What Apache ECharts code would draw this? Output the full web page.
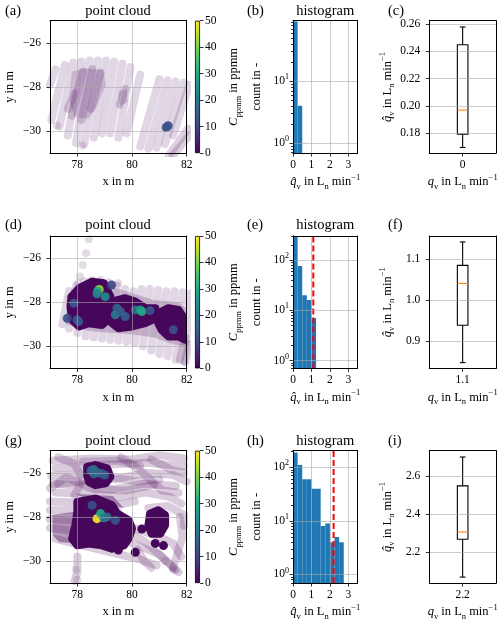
<!DOCTYPE html>
<html><head><meta charset="utf-8">
<script src="https://cdn.jsdelivr.net/npm/echarts@6/dist/echarts.min.js"></script>
<style>html,body{margin:0;padding:0;background:#fff}#c{width:500px;height:625px}</style>
</head><body><div id="c"></div>
<script>
const F = "'Liberation Serif','Times New Roman','DejaVu Serif',serif";
const viridis = ['#440154','#482475','#414487','#355f8d','#2a788e','#21918c','#22a884','#44bf70','#7ad151','#bddf26','#fde725'];

// ---------- axes / ticks ----------
const cloudXRange = [77, 82], cloudYRange = [-31, -25];
const cloudXTicks = [78, 80, 82], cloudYTicks = [-30, -28, -26];
const cbarRange = [0, 50], cbarTicks = [0, 10, 20, 30, 40, 50];
const histXRange = [0, 3.5], histXTicks = [0, 1, 2, 3];
const histLogMajor = [1, 10, 100];
const histLogMinor = [0.7,0.8,0.9,2,3,4,5,6,7,8,9,20,30,40,50,60,70,80,90,200,300];

// ---------- histograms ----------
const binEdgesB = [0, 0.25, 0.5];
const countsB = [92, 4];
const histYRangeB = [0.69, 95];
const binEdgesE = [0, 0.25, 0.5, 0.75, 1.0, 1.25];
const countsE = [290, 76, 20, 16, 7];
const histYRangeE = [0.70, 301];
const trueQE = 1.1;
const binEdgesH = [0, 0.25, 0.5, 0.75, 1.0, 1.25, 1.5, 1.75, 2.0, 2.25, 2.5, 2.75];
const countsH = [190, 111, 60, 60, 40, 40, 8, 9, 4, 5, 4];
const histYRangeH = [0.69, 205];
const trueQH = 2.2;

// ---------- box plots [min, q1, median, q3, max] ----------
const boxCats = ['0', '1.1', '2.2'];
const boxC = [0.1695, 0.1793, 0.1969, 0.2448, 0.2578];
const boxF = [0.848, 0.939, 1.0407, 1.0846, 1.1415];
const boxI = [2.069, 2.268, 2.306, 2.548, 2.6995];
const boxYRangeC = [0.1654, 0.2624], boxTicksC = [0.18, 0.20, 0.22, 0.24, 0.26];
const boxYRangeF = [0.834, 1.156], boxTicksF = [0.9, 1.0, 1.1];
const boxYRangeI = [2.0375, 2.7325], boxTicksI = [2.2, 2.4, 2.6];

// ---------- point clouds (a) ----------
const tracksA = [
 [[77.0,-27.9],[77.2,-27.2]],
 [[77.05,-29.5],[77.55,-27.0]],
 [[77.35,-29.8],[77.85,-26.9]],
 [[77.65,-30.2],[78.15,-26.85]],
 [[77.95,-30.55],[78.45,-26.8]],
 [[78.25,-30.6],[78.75,-26.8]],
 [[78.6,-30.3],[79.05,-26.8]],
 [[78.9,-30.1],[79.35,-26.85]],
 [[79.2,-30.1],[79.65,-26.95]],
 [[79.5,-30.3],[79.95,-27.1]],
 [[79.8,-30.1],[80.3,-27.45]],
 [[80.3,-30.7],[81.0,-27.65]],
 [[80.6,-30.8],[81.3,-27.7]],
 [[80.9,-30.75],[81.6,-27.75]],
 [[81.2,-30.6],[81.9,-27.8]],
 [[81.5,-30.2],[82.1,-27.9]]
];
const denseA = [
 [[77.8,-29.3],[78.2,-27.3]],
 [[78.15,-29.5],[78.55,-27.2]],
 [[78.5,-29.0],[78.85,-27.35]],
 [[77.65,-29.0],[77.9,-28.3]],
 [[79.55,-28.8],[79.75,-28.1]],
 [[81.35,-31.1],[82.05,-29.9]],
 [[81.5,-31.1],[82.1,-30.2]]
];
const mediumPolysA = [
 [[77.8,-27.3],[78.3,-27.15],[78.95,-27.25],[79.05,-27.9],[78.7,-28.9],[78.4,-29.45],[77.9,-29.35],[77.7,-28.6]],
 [[79.5,-28.2],[79.8,-28.1],[79.85,-28.7],[79.55,-28.85]]
];
const darkPolysA = [];
const darkSpotsA = [];
const singlesA = [[78.18,-30.65],[77.25,-29.75]];
const hotA = [[81.25,-29.84,12],[81.32,-29.76,12]];

// ---------- point clouds (d) ----------
const tracksD = [
 [[77.45,-29.0],[77.7,-27.5]],
 [[77.7,-29.2],[77.95,-27.25]],
 [[78.0,-29.4],[78.25,-27.05]],
 [[78.3,-29.55],[78.55,-27.0]],
 [[78.6,-29.6],[78.85,-27.0]],
 [[78.9,-29.65],[79.15,-27.1]],
 [[79.2,-29.7],[79.45,-27.25]],
 [[79.5,-29.75],[79.75,-27.4]],
 [[79.8,-29.8],[80.05,-27.5]],
 [[80.1,-29.85],[80.35,-27.4]],
 [[80.4,-30.0],[80.65,-27.4]],
 [[80.7,-30.2],[80.95,-27.45]],
 [[81.0,-30.35],[81.25,-27.5]],
 [[81.3,-30.45],[81.55,-27.5]],
 [[81.6,-30.6],[81.85,-27.55]],
 [[81.9,-30.7],[82.15,-27.6]]
];
const denseD = [
 [[81.75,-30.6],[81.95,-29.6]],
 [[81.95,-30.7],[82.1,-29.9]]
];
const mediumPolysD = [
 [[77.6,-27.7],[78.0,-27.3],[78.7,-27.0],[79.3,-27.3],[80.0,-27.6],[80.8,-27.9],[81.7,-28.0],[82.0,-28.3],[82.0,-30.0],[81.5,-29.9],[80.8,-29.6],[80.0,-29.45],[79.3,-29.4],[78.4,-29.3],[77.6,-29.0]]
];
const darkPolysD = [
 [[77.79,-27.75],[78.06,-27.37],[78.54,-27.07],[78.97,-27.14],[79.21,-27.75],[79.27,-28.65],[78.9,-29.03],[78.42,-28.95],[78.06,-29.1],[77.81,-28.8],[77.75,-28.2]],
 [[79.27,-27.97],[79.75,-27.82],[80.12,-27.97],[80.48,-28.27],[80.85,-28.27],[80.85,-28.73],[80.48,-28.95],[80.0,-29.1],[79.5,-29.18],[79.27,-28.95]],
 [[80.96,-28.5],[81.33,-28.27],[81.7,-28.35],[81.94,-28.8],[81.94,-29.7],[81.7,-29.55],[81.33,-29.55],[81.08,-29.25],[80.96,-28.95]]
];
const darkSpotsD = [];
const singlesD = [[78.42,-25.15],[78.32,-25.78],[78.2,-26.31],[78.09,-26.84],[78.02,-27.14],[79.49,-27.14]];
const hotD = [
 [78.8,-27.42,42],[78.74,-27.5,30],[78.72,-27.62,22],[79.02,-27.75,24],[79.25,-27.22,10],
 [77.87,-28.05,13],[77.63,-28.73,12],[77.99,-28.8,14],[78.05,-28.88,13],[79.45,-28.27,16],
 [79.39,-28.57,20],[79.57,-28.42,15],[79.75,-28.65,15],[80.12,-28.35,18],[80.3,-28.35,26],
 [80.36,-28.42,30],[80.66,-28.38,13],[81.51,-29.25,12]
];

// ---------- point clouds (g) ----------
const tracksG = [
 [[77.1,-25.45],[78.5,-25.35],[80.0,-25.4],[81.0,-25.2],[81.9,-25.35]],
 [[77.2,-25.8],[78.3,-25.7],[79.5,-25.6],[80.5,-25.55],[81.9,-25.7]],
 [[77.05,-26.15],[78.3,-26.05],[79.4,-26.3],[80.5,-26.0],[81.5,-26.1],[82.0,-26.4]],
 [[77.1,-26.5],[78.2,-26.6],[79.3,-26.75],[80.4,-26.5],[81.6,-26.6]],
 [[77.2,-26.9],[78.2,-26.95],[79.5,-27.1],[80.5,-26.9],[81.4,-27.1],[81.8,-27.4]],
 [[77.0,-27.3],[78.0,-27.35],[79.5,-27.45],[80.1,-27.3]],
 [[77.0,-27.7],[78.0,-27.7],[79.5,-27.8]],
 [[77.0,-28.1],[78.2,-28.2],[79.6,-28.3],[80.3,-28.6],[81.0,-28.9],[81.5,-29.2],[81.8,-29.8]],
 [[77.0,-28.5],[78.0,-28.65],[79.4,-28.9],[80.2,-29.3],[81.0,-29.7],[81.6,-30.4]],
 [[77.2,-29.0],[78.2,-29.3],[79.2,-29.6],[80.2,-29.9],[80.9,-30.2]],
 [[78.0,-29.8],[78.0,-30.5],[77.9,-30.9]],
 [[81.75,-28.0],[81.85,-28.9],[81.65,-29.7],[81.5,-30.3]],
 [[79.9,-28.7],[80.5,-29.15],[81.0,-29.7],[81.7,-30.5]],
 [[80.6,-27.6],[81.3,-27.5],[81.9,-27.9],[81.9,-28.4]],
 [[80.2,-29.5],[80.45,-30.0],[80.7,-30.3]],
 [[77.3,-25.3],[77.9,-25.6],[78.2,-26.3],[77.9,-27.0]],
 [[79.6,-25.3],[80.3,-25.9],[81.1,-26.8],[81.7,-26.9]],
 [[77.0,-26.7],[77.6,-26.2],[78.6,-26.75],[79.8,-26.8],[80.8,-26.55]],
 [[80.7,-25.4],[81.5,-25.9],[81.9,-26.0]]
];
const denseG = [
 [[78.2,-25.5],[79.4,-25.45],[80.3,-25.7]],
 [[79.3,-26.2],[80.2,-26.4],[81.0,-26.3]],
 [[77.3,-26.5],[78.1,-26.4]]
];
const mediumPolysG = [
 [[77.09,-27.9],[78.0,-27.75],[78.0,-29.2],[77.33,-29.14],[77.09,-28.83]],
 [[77.9,-26.95],[79.3,-27.05],[79.7,-27.6],[78.5,-27.25]]
];
const darkPolysG = [
 [[78.36,-25.73],[78.66,-25.65],[79.09,-25.8],[79.21,-26.18],[79.03,-26.48],[78.66,-26.56],[78.42,-26.41],[78.36,-26.1]],
 [[78.0,-27.32],[78.66,-27.17],[79.27,-27.47],[79.45,-27.85],[79.88,-28.15],[80.0,-28.53],[79.88,-28.98],[79.7,-29.29],[79.27,-29.44],[78.9,-29.29],[78.42,-29.21],[78.0,-29.29],[77.81,-28.98],[77.93,-28.38],[78.0,-27.77]],
 [[80.66,-27.85],[80.96,-27.7],[81.21,-27.92],[81.21,-28.38],[81.03,-28.76],[80.72,-28.76],[80.6,-28.38]]
];
const darkSpotsG = [[80.85,-29.2],[81.15,-29.3],[80.12,-29.6],[80.36,-28.55],[79.5,-29.5]];
const singlesG = [[77.95,-30.4],[78.0,-30.85],[81.2,-30.0],[81.5,-30.4]];
const hotG = [
 [78.72,-28.08,50],[78.85,-27.85,30],[78.54,-27.47,12],[79.09,-28.0,17],[78.97,-28.05,20],
 [79.39,-28.15,13],[78.5,-25.9,16],[78.6,-25.85,18],[78.75,-26.0,17],[78.9,-26.05,15],
 [79.0,-26.1,14],[78.6,-26.05,17]
];

// ---------- build ----------
const rowTop = [20.7, 236, 450.7], rowH = 132.4;
const colCloud = [49.3, 137.4], colCbar = [195, 5], colHist = [293, 64.6], colBox = [429.3, 66.7];
const trackOpacity = [0.16, 0.16, 0.2];
const mediumOpacity = [0.16, 0.2, 0.4];
const darkFill = '#46065a';

const grids=[], xAxes=[], yAxes=[], series=[], graphics=[], hotIdx=[];
const nameRich = {
  it:{fontFamily:F,fontStyle:'italic',fontSize:12.5,lineHeight:18,color:'#000'},
  sub:{fontFamily:F,fontSize:8.5,verticalAlign:'bottom',lineHeight:11,color:'#000'},
  sup:{fontFamily:F,fontSize:8.5,verticalAlign:'top',lineHeight:11,color:'#000'}
};
const logRich = {
  b:{fontFamily:F,fontSize:11.5,lineHeight:16,color:'#000'},
  e:{fontFamily:F,fontSize:8,verticalAlign:'top',lineHeight:10,color:'#000'}
};
const qHatLabel = '{it|q\u0302}{sub|v} in L{sub|n} min{sup|\u22121}';
const qLabel = '{it|q}{sub|v} in L{sub|n} min{sup|\u22121}';

function addGrid(c, r){ grids.push({left:c[0], top:rowTop[r], width:c[1], height:rowH, show:false}); return grids.length-1; }
function axis(o){
  const a = {
    gridIndex:o.g, type:o.type||'value', position:o.pos, min:o.min, max:o.max, z:8,
    axisLine:{show:true,onZero:false,lineStyle:{color:'#000',width:1}},
    axisTick:{show:o.tickShow!==false,inside:false,length:o.tickLen||3.5,alignWithLabel:true,lineStyle:{color:'#000',width:0.8}},
    axisLabel:{show:o.labelShow!==false,color:'#000',fontFamily:F,fontSize:11.5,margin:o.margin,formatter:o.fmt,rich:o.rich},
    splitLine:{show:!!o.split,lineStyle:{color:'rgba(170,170,170,0.6)',width:1}},
    name:o.name, nameLocation:'middle', nameGap:o.nameGap, nameRotate:o.nameRotate,
    nameTextStyle:{color:'#000',fontFamily:F,fontSize:12.5,lineHeight:18,rich:nameRich}
  };
  if(o.ticks){ a.axisTick.customValues=o.ticks; a.axisLabel.customValues=o.ticks; }
  if(o.type==='log') a.logBase=10;
  if(o.type==='category'){ a.data=o.data; a.boundaryGap=true; }
  return a;
}
function addX(o){ xAxes.push(axis(o)); return xAxes.length-1; }
function addY(o){ yAxes.push(axis(o)); return yAxes.length-1; }
function frame(g){
  addX({g, pos:'top', min:0, max:1, tickShow:false, labelShow:false});
  addY({g, pos:'right', min:0, max:1, tickShow:false, labelShow:false});
}
const minus = v => (v<0?'\u2212':'')+Math.abs(v);
function text(x,y,t,size,align){ graphics.push({type:'text', x, y, z:20, style:{text:t, fontFamily:F, fontSize:size, fill:'#000', align:align||'center', verticalAlign:'middle'}}); }

const letters = [['(a)','(b)','(c)'],['(d)','(e)','(f)'],['(g)','(h)','(i)']];
const titleY = [10.7, 225, 440.7];
const clouds = [
  {tr:tracksA, de:denseA, md:mediumPolysA, dk:darkPolysA, sp:darkSpotsA, si:singlesA, ho:hotA},
  {tr:tracksD, de:denseD, md:mediumPolysD, dk:darkPolysD, sp:darkSpotsD, si:singlesD, ho:hotD},
  {tr:tracksG, de:denseG, md:mediumPolysG, dk:darkPolysG, sp:darkSpotsG, si:singlesG, ho:hotG}
];
const hists = [[binEdgesB,countsB,histYRangeB,null],[binEdgesE,countsE,histYRangeE,trueQE],[binEdgesH,countsH,histYRangeH,trueQH]];
const boxes = [[boxC,boxYRangeC,boxTicksC,2],[boxF,boxYRangeF,boxTicksF,1],[boxI,boxYRangeI,boxTicksI,1]];

for(let r=0;r<3;r++){
  // --- point cloud ---
  let g = addGrid(colCloud, r);
  let xi = addX({g,pos:'bottom',min:cloudXRange[0],max:cloudXRange[1],ticks:cloudXTicks,split:true,margin:6,fmt:v=>String(v),name:'x in m',nameGap:20});
  let yi = addY({g,pos:'left',min:cloudYRange[0],max:cloudYRange[1],ticks:cloudYTicks,split:true,margin:9,fmt:minus,name:'y in m',nameGap:31,nameRotate:90});
  frame(g);
  const cl = clouds[r];
  const lineSer = (data, w, op) => ({type:'lines', coordinateSystem:'cartesian2d', xAxisIndex:xi, yAxisIndex:yi, polyline:true, silent:true, clip:true, z:2,
     data:data.map(c=>({coords:c})), lineStyle:{color:'#440154', width:w, opacity:op, cap:'round', join:'round'}});
  const polySer = (polys, op, stroke) => ({type:'custom', xAxisIndex:xi, yAxisIndex:yi, silent:true, clip:true, z:2,
     data:polys.map((p,i)=>[p[0][0], p[0][1], i]),
     renderItem:(params, api)=>{
       const poly = polys[api.value(2)];
       return {type:'polygon', shape:{points:poly.map(pt=>api.coord(pt))},
         style: stroke ? {fill:darkFill, stroke:darkFill, lineWidth:8, lineJoin:'round', opacity:op}
                       : {fill:'#440154', opacity:op}};
     }});
  series.push(lineSer(cl.tr, 8, trackOpacity[r]));
  if(cl.de.length) series.push(lineSer(cl.de, 8, 0.18));
  if(cl.md.length) series.push(polySer(cl.md, mediumOpacity[r], false));
  if(cl.dk.length) series.push(polySer(cl.dk, 1, true));
  if(cl.sp.length) series.push({type:'scatter', xAxisIndex:xi, yAxisIndex:yi, data:cl.sp, symbolSize:9, silent:true, clip:true, z:2, itemStyle:{color:darkFill, opacity:1}});
  if(cl.si.length) series.push({type:'scatter', xAxisIndex:xi, yAxisIndex:yi, data:cl.si, symbolSize:8, silent:true, clip:true, z:2, itemStyle:{color:'#440154', opacity:0.14}});
  series.push({type:'scatter', xAxisIndex:xi, yAxisIndex:yi, data:cl.ho, symbolSize:9, silent:true, clip:true, z:3, itemStyle:{opacity:0.92}});
  hotIdx.push(series.length-1);

  // --- colorbar ---
  g = addGrid(colCbar, r);
  xi = addX({g,type:'category',data:['c'],pos:'bottom',tickShow:false,labelShow:false});
  xAxes[xi].axisLine.show=false;
  yi = addY({g,pos:'right',min:cbarRange[0],max:cbarRange[1],ticks:cbarTicks,margin:5,fmt:v=>String(v),
     name:'{it|C}{sub|ppmm} in ppmm',nameGap:25,nameRotate:90});
  yAxes[yi].axisLine.show=false;
  series.push({type:'bar', xAxisIndex:xi, yAxisIndex:yi, data:[cbarRange[1]], barWidth:'100%', silent:true,
     itemStyle:{borderColor:'#000', borderWidth:0.8, color:new echarts.graphic.LinearGradient(0,1,0,0, viridis.map((c,i)=>({offset:i/(viridis.length-1), color:c})))}});

  // --- histogram ---
  const [edges, counts, yr, tq] = hists[r];
  g = addGrid(colHist, r);
  xi = addX({g,pos:'bottom',min:histXRange[0],max:histXRange[1],ticks:histXTicks,split:true,margin:6,fmt:v=>String(v),name:qHatLabel,nameGap:20});
  yi = addY({g,type:'log',pos:'left',min:yr[0],max:yr[1],ticks:histLogMajor,split:true,margin:4,rich:logRich,
     fmt:v=>{const e=Math.log10(v); return Math.abs(e-Math.round(e))<1e-6 ? '{b|10}{e|'+Math.round(e)+'}' : '';},
     name:'count in -',nameGap:27,nameRotate:90});
  addY({g,type:'log',pos:'left',min:yr[0],max:yr[1],ticks:histLogMinor,labelShow:false,tickLen:2});
  frame(g);
  const hd = counts.map((c,i)=>[edges[i], edges[i+1], c]);
  series.push({type:'custom', xAxisIndex:xi, yAxisIndex:yi, data:hd, silent:true, clip:true, z:2,
    encode:{x:[0,1], y:2},
    renderItem:(params, api)=>{
      const p0 = api.coord([api.value(0), api.value(2)]);
      const p1 = api.coord([api.value(1), api.value(2)]);
      const cs = params.coordSys; const bottom = cs.y + cs.height;
      return {type:'rect', shape:{x:p0[0], y:p0[1], width:p1[0]-p0[0], height:bottom-p0[1]}, style:{fill:'#1f77b4'}};
    }});
  if(tq!==null){
    series.push({type:'line', xAxisIndex:xi, yAxisIndex:yi, data:[[tq, yr[0]],[tq, yr[1]]], showSymbol:false, silent:true, z:4,
      lineStyle:{color:'#ff0000', width:2, type:[6,3]}});
  }

  // --- box plot ---
  const [bd, byr, bt, dec] = boxes[r];
  g = addGrid(colBox, r);
  xi = addX({g,type:'category',data:[boxCats[r]],pos:'bottom',margin:6,name:qLabel,nameGap:20});
  yi = addY({g,pos:'left',min:byr[0],max:byr[1],ticks:bt,split:true,margin:9,fmt:v=>v.toFixed(dec),name:qHatLabel,nameGap:33,nameRotate:90});
  frame(g);
  series.push({type:'custom', xAxisIndex:xi, yAxisIndex:yi, data:[[0].concat(bd)], silent:true, z:3,
    encode:{x:0, y:[1,2,3,4,5]},
    renderItem:(params, api)=>{
      const c = api.value(0);
      const X = api.coord([c, api.value(3)])[0];
      const Y = k => api.coord([c, api.value(k)])[1];
      const yMin=Y(1), yQ1=Y(2), yMed=Y(3), yQ3=Y(4), yMax=Y(5);
      const hw=5.3, cw=2.9, ls={stroke:'#000', lineWidth:1.1};
      return {type:'group', children:[
        {type:'line', shape:{x1:X,y1:yQ3,x2:X,y2:yMax}, style:ls},
        {type:'line', shape:{x1:X,y1:yQ1,x2:X,y2:yMin}, style:ls},
        {type:'line', shape:{x1:X-cw,y1:yMax,x2:X+cw,y2:yMax}, style:ls},
        {type:'line', shape:{x1:X-cw,y1:yMin,x2:X+cw,y2:yMin}, style:ls},
        {type:'rect', shape:{x:X-hw,y:yQ3,width:2*hw,height:yQ1-yQ3}, style:{stroke:'#000',lineWidth:1.1,fill:'transparent'}},
        {type:'line', shape:{x1:X-hw,y1:yMed,x2:X+hw,y2:yMed}, style:{stroke:'#ff7f0e',lineWidth:1.1}}
      ]};
    }});

  // texts
  text(5, titleY[r], letters[r][0], 14.5, 'left');
  text(247, titleY[r], letters[r][1], 14.5, 'left');
  text(388, titleY[r], letters[r][2], 14.5, 'left');
  text(colCloud[0]+colCloud[1]/2, titleY[r], 'point cloud', 14.5);
  text(colHist[0]+colHist[1]/2, titleY[r], 'histogram', 14.5);
}

const chart = echarts.init(document.getElementById('c'), null, {renderer:'canvas'});
chart.setOption({
  animation:false, backgroundColor:'#fff',
  grid:grids, xAxis:xAxes, yAxis:yAxes, series,
  visualMap:{type:'continuous', show:false, min:cbarRange[0], max:cbarRange[1], dimension:2, seriesIndex:hotIdx, inRange:{color:viridis}},
  graphic:graphics
});
</script></body></html>
